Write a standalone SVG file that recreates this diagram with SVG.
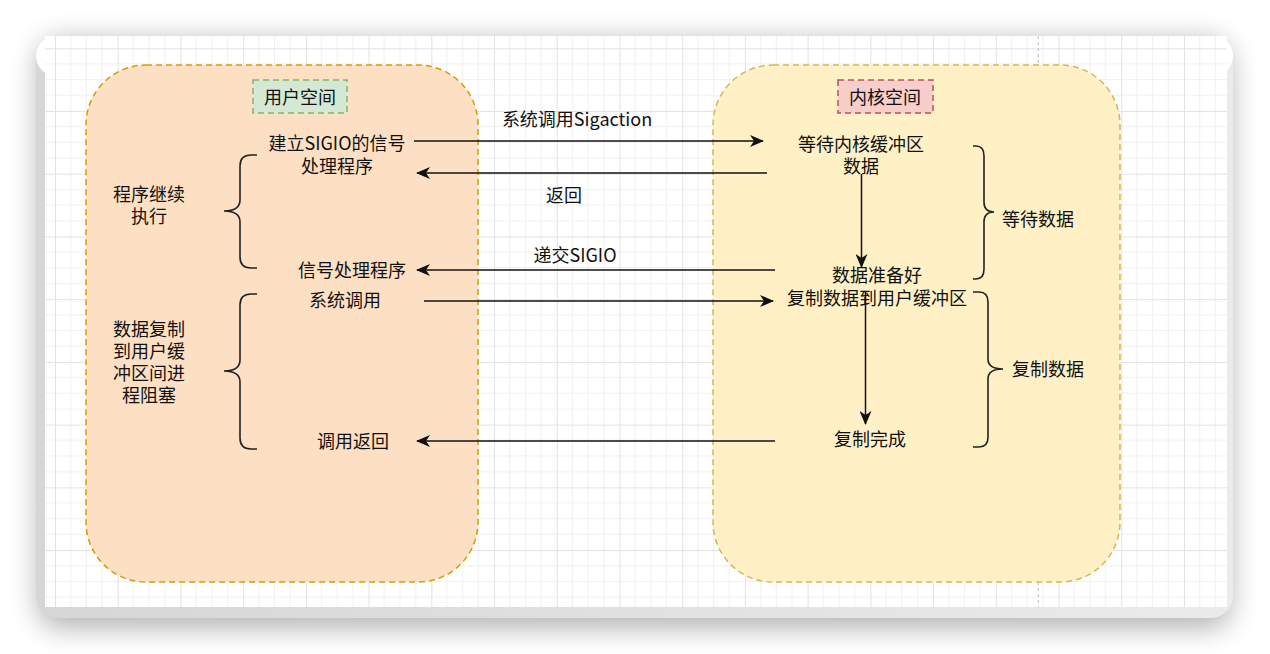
<svg xmlns="http://www.w3.org/2000/svg" width="1270" height="654" viewBox="0 0 1270 654">
  <defs>
    <style>
      text { font-family: "Noto Sans CJK SC", "Noto Sans", sans-serif; font-size: 18px; fill: #111; text-anchor: middle; }
      .conn { stroke: #111; stroke-width: 1.5; fill: none; }
      .brace { stroke: #222; stroke-width: 1.6; fill: none; }
      .dash { stroke-dasharray: 6 4; stroke-width: 1.5; }
    </style>
    <pattern id="grid" patternUnits="userSpaceOnUse" x="55" y="48.3" width="62.72" height="62.72">
      <path d="M15.68,0 V62.72 M31.36,0 V62.72 M47.04,0 V62.72 M0,15.68 H62.72 M0,31.36 H62.72 M0,47.04 H62.72" stroke="#f0f0f0" stroke-width="1" fill="none"/>
      <path d="M0.5,0 V62.72 M0,0.5 H62.72" stroke="#e2e2e2" stroke-width="1" fill="none"/>
    </pattern>
    <filter id="shadow" x="-10%" y="-15%" width="120%" height="135%">
      <feGaussianBlur stdDeviation="14"/>
    </filter>
    <linearGradient id="edge" x1="0" y1="0" x2="1" y2="0">
      <stop offset="0" stop-color="#d6d6d6"/>
      <stop offset="1" stop-color="#ebebeb"/>
    </linearGradient>
    <marker id="arrow" viewBox="0 0 14 12" refX="13" refY="6" markerWidth="14" markerHeight="12" markerUnits="userSpaceOnUse" orient="auto">
      <path d="M0,0 L14,6 L0,12 L4,6 z" fill="#111"/>
    </marker>
  </defs>

  <!-- window frame with soft drop shadow -->
  <rect x="0" y="0" width="1270" height="654" fill="#ffffff"/>
  <rect x="38" y="40" width="1193" height="588" rx="22" fill="#000" opacity="0.3" filter="url(#shadow)"/>
  <rect x="36" y="36" width="1197" height="582" rx="22" fill="url(#edge)"/>
  <rect x="36" y="36" width="1197" height="40" rx="20" fill="#ffffff"/>
  <rect x="45" y="36" width="1182" height="571" fill="#ffffff"/>
  <rect x="45" y="36" width="1182" height="571" fill="url(#grid)"/>
  <!-- page break -->
  <line x1="1038.3" y1="36" x2="1038.3" y2="607" stroke="#bdbdbd" stroke-width="1" stroke-dasharray="3 3"/>

  <!-- containers -->
  <g id="user-space">
    <rect x="86" y="65" width="392" height="517" rx="60" fill="#fde0c4" stroke="#d79b00" class="dash"/>
    <rect x="253" y="80" width="94" height="33" fill="#d5e8d4" stroke="#82b366" class="dash"/>
    <text x="300" y="104">用户空间</text>
  </g>
  <g id="kernel-space">
    <rect x="713" y="65" width="407" height="517" rx="60" fill="#fff0c6" stroke="#d6b656" class="dash"/>
    <rect x="838" y="80" width="95" height="33" fill="#f8cecc" stroke="#b85450" class="dash"/>
    <text x="885" y="104">内核空间</text>
  </g>

  <!-- user side labels -->
  <g id="setup-handler">
    <text x="337" y="150">建立SIGIO的信号</text>
    <text x="337" y="173">处理程序</text>
  </g>
  <g id="signal-handler"><text x="352" y="277">信号处理程序</text></g>
  <g id="syscall"><text x="345" y="307">系统调用</text></g>
  <g id="call-return"><text x="353" y="448">调用返回</text></g>
  <g id="continue-note">
    <text x="149" y="201">程序继续</text>
    <text x="149" y="223">执行</text>
  </g>
  <g id="blocked-note">
    <text x="149" y="336">数据复制</text>
    <text x="149" y="358">到用户缓</text>
    <text x="149" y="380">冲区间进</text>
    <text x="149" y="402">程阻塞</text>
  </g>

  <!-- kernel side labels -->
  <g id="wait-buffer">
    <text x="861" y="151">等待内核缓冲区</text>
    <text x="861" y="173">数据</text>
  </g>
  <g id="data-ready"><text x="877" y="282">数据准备好</text></g>
  <g id="copy-data"><text x="877" y="305">复制数据到用户缓冲区</text></g>
  <g id="copy-done"><text x="870" y="446">复制完成</text></g>
  <g id="wait-note"><text x="1038" y="226">等待数据</text></g>
  <g id="copy-note"><text x="1048" y="376">复制数据</text></g>

  <!-- braces -->
  <g id="braces">
    <path class="brace" d="M257,155 H251 Q240,155 240,166 V200 Q240,211 224,211 Q240,211 240,222 V257 Q240,268 251,268 H257"/>
    <path class="brace" d="M257,294 H251 Q240,294 240,305 V360 Q240,371 224,371 Q240,371 240,382 V438 Q240,449 251,449 H257"/>
    <path class="brace" d="M973,146 H976 Q984,146 984,156 V202 Q984,212 994,212 Q984,212 984,222 V269 Q984,279 976,279 H973"/>
    <path class="brace" d="M973,292 H979 Q988,292 988,302 V359 Q988,369 1003,369 Q988,369 988,379 V437 Q988,447 979,447 H973"/>
  </g>

  <!-- connectors -->
  <g id="connectors">
    <line class="conn" x1="414" y1="141" x2="763" y2="141" marker-end="url(#arrow)"/>
    <text x="577" y="126">系统调用Sigaction</text>
    <line class="conn" x1="767" y1="173" x2="417" y2="173" marker-end="url(#arrow)"/>
    <text x="564" y="202">返回</text>
    <line class="conn" x1="775" y1="270" x2="417" y2="270" marker-end="url(#arrow)"/>
    <text x="575" y="262">递交SIGIO</text>
    <line class="conn" x1="424" y1="301" x2="773" y2="301" marker-end="url(#arrow)"/>
    <line class="conn" x1="775" y1="441" x2="417" y2="441" marker-end="url(#arrow)"/>
    <line class="conn" x1="861.5" y1="174" x2="861.5" y2="267" marker-end="url(#arrow)"/>
    <line class="conn" x1="865.5" y1="292" x2="865.5" y2="424" marker-end="url(#arrow)"/>
  </g>
</svg>
